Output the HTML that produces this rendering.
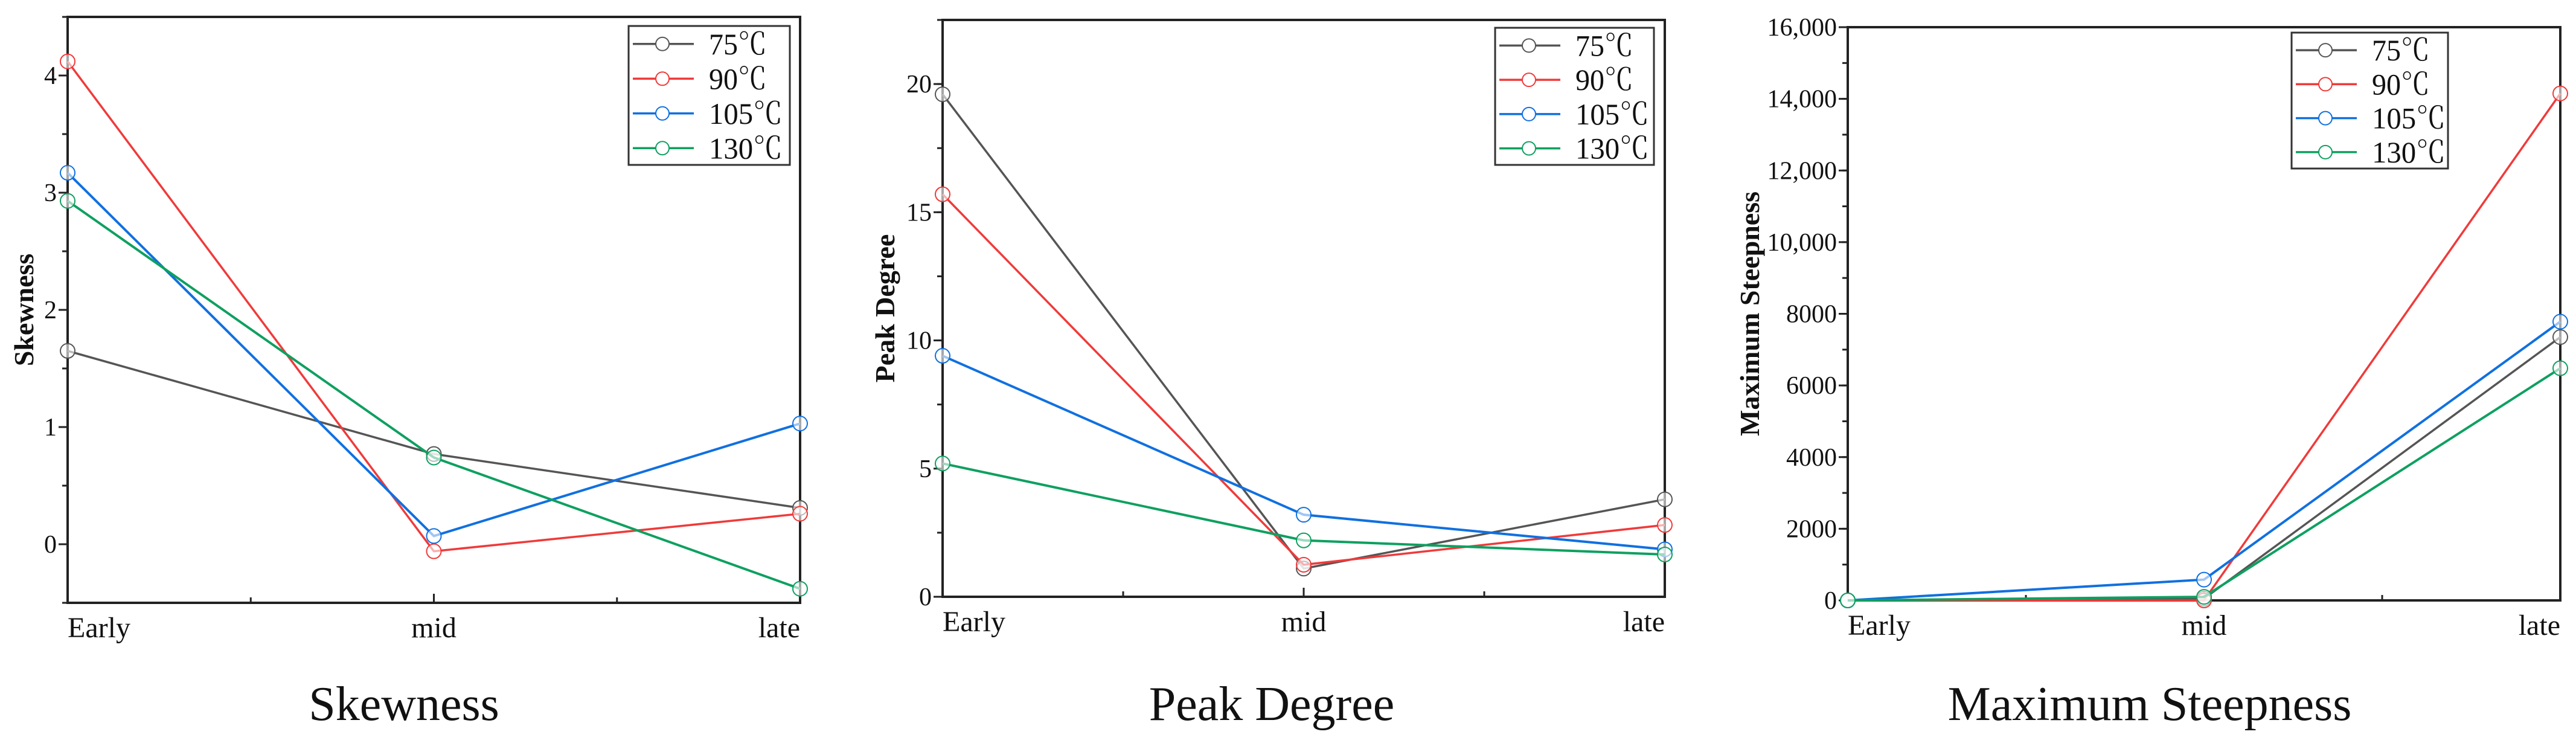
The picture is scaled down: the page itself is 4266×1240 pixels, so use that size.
<!DOCTYPE html>
<html><head><meta charset="utf-8"><style>
html,body{margin:0;padding:0;background:#fff;}
svg{display:block;font-family:"Liberation Serif","Noto Serif CJK SC",serif;}
svg text{font-family:"Liberation Serif","Noto Serif CJK SC",serif;fill:#111;}
</style></head>
<body>
<svg id="fig" width="4266" height="1240" viewBox="0 0 4266 1240" xmlns="http://www.w3.org/2000/svg" font-family="Liberation Serif, Noto Serif CJK SC, serif"></svg>
<script>
const categories = ["Early","mid","late"];
const seriesNames = ["75℃","90℃","105℃","130℃"];
const seriesColors = ["#555555","#f03a3a","#1070e0","#0ea060"];
const skew75 = [1.65, 0.77, 0.31];
const skew90 = [4.12, -0.06, 0.26];
const skew105 = [3.17, 0.07, 1.03];
const skew130 = [2.93, 0.74, -0.38];
const skewTicks = [0,1,2,3,4];
const peak75 = [19.6, 1.1, 3.8];
const peak90 = [15.7, 1.25, 2.8];
const peak105 = [9.4, 3.2, 1.85];
const peak130 = [5.2, 2.2, 1.65];
const peakTicks = [0,5,10,15,20];
const steep75 = [0, 50, 7350];
const steep90 = [0, 0, 14150];
const steep105 = [0, 580, 7780];
const steep130 = [0, 100, 6480];
const steepTicks = [0,2000,4000,6000,8000,10000,12000,14000,16000];
const steepTickLabels = ["0","2000","4000","6000","8000","10,000","12,000","14,000","16,000"];

const NS="http://www.w3.org/2000/svg";
const FONT='font-family:"Liberation Serif","Noto Serif CJK SC",serif;';
const svg=document.getElementById('fig');
function mk(tag,attrs,parent){const e=document.createElementNS(NS,tag);for(const k in attrs)e.setAttribute(k,attrs[k]);if(tag==='text')e.setAttribute('style',FONT);(parent||svg).appendChild(e);return e;}

const charts=[
 {id:'skewness',x0:112,x1:1325,y0:28,y1:998,ymin:-0.5,ymax:4.5,ticks:skewTicks,labels:skewTicks.map(String),minor:0.5,
  data:[skew75,skew90,skew105,skew130],ytitle:'Skewness',ytx:40,lx:[1041,1308],ly:[43,273],cap:'Skewness',capx:669},
 {id:'peak-degree',x0:1561,x1:2757,y0:33,y1:988,ymin:0,ymax:22.5,ticks:peakTicks,labels:peakTicks.map(String),minor:2.5,
  data:[peak75,peak90,peak105,peak130],ytitle:'Peak Degree',ytx:1466,lx:[2476,2739],ly:[46,273],cap:'Peak Degree',capx:2106},
 {id:'maximum-steepness',x0:3060,x1:4240,y0:45,y1:994,ymin:0,ymax:16000,ticks:steepTicks,labels:steepTickLabels,minor:1000,
  data:[steep75,steep90,steep105,steep130],ytitle:'Maximum Steepness',ytx:2898,lx:[3795,4054],ly:[54,279],cap:'Maximum Steepness',capx:3560}
];

charts.forEach(c=>{
 const g=mk('g',{});
 
 
 const xs=i=>c.x0+(c.x1-c.x0)*i/(categories.length-1);
 const ys=v=>c.y1-(v-c.ymin)/(c.ymax-c.ymin)*(c.y1-c.y0);
 const fr=mk('rect',{x:c.x0,y:c.y0,width:c.x1-c.x0,height:c.y1-c.y0,fill:'none',stroke:'#222','stroke-width':4},g);
 
 
 for(let v=Math.ceil(c.ymin/c.minor)*c.minor; v<=c.ymax+1e-9; v+=c.minor){
   mk('line',{x1:c.x0-9,x2:c.x0,y1:ys(v),y2:ys(v),stroke:'#222','stroke-width':3},g);
 }
 c.ticks.forEach((t,i)=>{
   mk('line',{x1:c.x0-15,x2:c.x0,y1:ys(t),y2:ys(t),stroke:'#222','stroke-width':3},g);
   const tl=mk('text',{x:c.x0-18,y:ys(t)+14,'text-anchor':'end','font-size':42},g);
   tl.textContent=c.labels[i];
   
   
 });
 for(let k=1;k<4;k++){
   const x=c.x0+(c.x1-c.x0)*k/4;
   mk('line',{x1:x,x2:x,y1:c.y1,y2:c.y1-(k==2?15:9),stroke:'#222','stroke-width':3},g);
 }
 categories.forEach((cat,i)=>{
   const anchor=i==0?'start':(i==categories.length-1?'end':'middle');
   const t=mk('text',{x:xs(i),y:c.y1+57,'text-anchor':anchor,'font-size':48},g);
   t.textContent=cat;
   
   
 });
 const yc=(c.y0+c.y1)/2;
 const yt=mk('text',{x:c.ytx,y:yc,'text-anchor':'middle','font-size':46,'font-weight':'bold',transform:`rotate(-90 ${c.ytx} ${yc})`,dy:15},g);
 yt.textContent=c.ytitle;
 
 
 c.data.forEach((arr,s)=>{
   const sg=mk('g',{},g);
   
   
   mk('polyline',{points:arr.map((v,i)=>xs(i)+','+ys(v)).join(' '),fill:'none',stroke:seriesColors[s],'stroke-width':s>=2?4:3.5},sg);
   arr.forEach((v,i)=>{
     const p=mk('circle',{cx:xs(i),cy:ys(v),r:12,fill:'#fff','fill-opacity':0.6,stroke:seriesColors[s],'stroke-width':2},sg);
     
     
   });
 });
 const lg=mk('g',{},g);
 
 
 mk('rect',{x:c.lx[0],y:c.ly[0],width:c.lx[1]-c.lx[0],height:c.ly[1]-c.ly[0],fill:'#fff',stroke:'#333','stroke-width':3},lg);
 const step=(c.ly[1]-c.ly[0])/4;
 seriesNames.forEach((n,s)=>{
   const yy=c.ly[0]+step*(s+0.5)+1;
   const e=mk('g',{},lg);
   
   
   mk('line',{x1:c.lx[0]+7,x2:c.lx[0]+108,y1:yy,y2:yy,stroke:seriesColors[s],'stroke-width':3.5},e);
   mk('circle',{cx:c.lx[0]+56,cy:yy,r:11,fill:'#fff',stroke:seriesColors[s],'stroke-width':2},e);
   const t=mk('text',{x:c.lx[0]+133,y:yy+17,'font-size':50,textLength:n.length>3?122:96,lengthAdjust:'spacingAndGlyphs'},e);
   t.textContent=n;
 });
 const cp=mk('text',{x:c.capx,y:1192,'text-anchor':'middle','font-size':80},g);
 cp.textContent=c.cap;
 
 
});
</script>
</body></html>
